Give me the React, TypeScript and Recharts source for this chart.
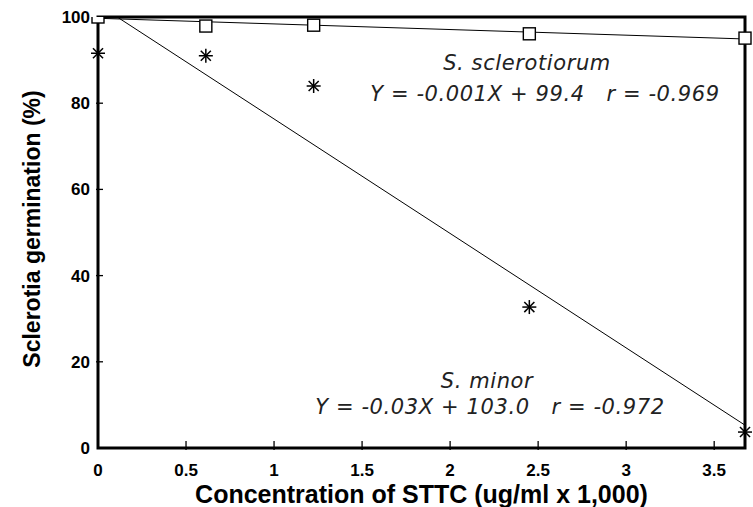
import React from 'react';
import { ComposedChart, Scatter, XAxis, YAxis, ReferenceArea } from 'recharts';

// concentration (ug/ml x 1,000)
const conc = [0, 0.6125, 1.225, 2.45, 3.675];
// germination (%)
const sclerotiorum = [100, 97.9, 98.1, 96.1, 95.1];
const minor = [91.6, 91, 84, 32.7, 3.7];
// regression lines, end values at x = 0 and x = max
const fitSclerotiorum = [99.7, 94.9];
const fitMinor = [102.9, 5.3];

const xTicks = [0, 0.5, 1, 1.5, 2, 2.5, 3, 3.5];
const yTicks = [0, 20, 40, 60, 80, 100];

const xMax = conc[conc.length - 1];
const pts = (ys: number[]) => conc.map((x, i) => ({ x, y: ys[i] }));
const ends = (ys: number[]) => [{ x: 0, y: ys[0] }, { x: xMax, y: ys[1] }];

const font = 'Liberation Sans, Arial, sans-serif';

const Square = (p: any) => (
  <rect x={p.cx - 6} y={p.cy - 6} width={12} height={12} fill="#fff" stroke="#000" strokeWidth={1.4} />
);

const Star = (p: any) => {
  const r = 7;
  const d = r * 0.72;
  return (
    <g stroke="#000" strokeWidth={1.5}>
      <line x1={p.cx} y1={p.cy - r} x2={p.cx} y2={p.cy + r} />
      <line x1={p.cx - r} y1={p.cy} x2={p.cx + r} y2={p.cy} />
      <line x1={p.cx - d} y1={p.cy - d} x2={p.cx + d} y2={p.cy + d} />
      <line x1={p.cx - d} y1={p.cy + d} x2={p.cx + d} y2={p.cy - d} />
    </g>
  );
};

const NoShape = () => <g />;

const XTick = (p: any) => {
  const v = p.payload.value;
  return (
    <g>
      {v !== 0 && <line x1={p.x} x2={p.x} y1={p.y} y2={p.y - 9} stroke="#000" strokeWidth={1.3} />}
      <text x={p.x} y={p.y + 26} textAnchor="middle" fontFamily={font} fontWeight="bold" fontSize={17} fill="#000">
        {v}
      </text>
    </g>
  );
};

const YTick = (p: any) => {
  const v = p.payload.value;
  return (
    <g>
      {v !== 0 && v !== 100 && <line x1={p.x} x2={p.x + 7} y1={p.y} y2={p.y} stroke="#000" strokeWidth={1.3} />}
      <text x={p.x - 6} y={p.y + 6} textAnchor="end" fontFamily={font} fontWeight="bold" fontSize={17} fill="#000">
        {v}
      </text>
    </g>
  );
};

const note = {
  fontFamily: 'DejaVu Sans, sans-serif',
  fontStyle: 'italic',
  fontSize: 21,
  fill: '#222',
  fontWeight: 200,
  letterSpacing: 0.6,
} as const;

export default function App() {
  return (
    <div style={{ position: 'absolute', left: 0, top: 0, background: '#fff' }}>
      <ComposedChart width={753} height={507} margin={{ top: 17, right: 8, bottom: 0, left: 0 }}>
        <XAxis
          type="number"
          dataKey="x"
          domain={[0, xMax]}
          ticks={xTicks}
          tick={<XTick />}
          tickLine={false}
          tickSize={0}
          axisLine={false}
          height={59}
          label={{ value: 'Concentration of STTC (ug/ml x 1,000)', position: 'insideBottom', offset: 4, style: { fontFamily: font, fontWeight: 'bold', fontSize: 25, fill: '#000' } }}
        />
        <YAxis
          type="number"
          dataKey="y"
          domain={[0, 100]}
          allowDataOverflow
          ticks={yTicks}
          tick={<YTick />}
          tickLine={false}
          tickSize={0}
          axisLine={false}
          width={98}
        />
        <ReferenceArea x1={0} x2={xMax} y1={0} y2={100} fill="none" stroke="#000" strokeWidth={3} ifOverflow="visible" />
        <Scatter data={ends(fitSclerotiorum)} line={{ stroke: '#000', strokeWidth: 1 }} shape={<NoShape />} isAnimationActive={false} />
        <Scatter data={ends(fitMinor)} line={{ stroke: '#000', strokeWidth: 1 }} shape={<NoShape />} isAnimationActive={false} />
        <Scatter data={pts(sclerotiorum)} shape={<Square />} isAnimationActive={false} />
        <Scatter data={pts(minor)} shape={<Star />} isAnimationActive={false} />
        <text
          transform="translate(40 229) rotate(-90)"
          textAnchor="middle"
          fontFamily={font}
          fontWeight="bold"
          fontSize={23}
          fill="#000"
        >
          Sclerotia germination (%)
        </text>
        <text x={527} y={70} textAnchor="middle" style={note}>S. sclerotiorum</text>
        <text x={545} y={101} textAnchor="middle" style={note} xmlSpace="preserve">Y = -0.001X + 99.4   r = -0.969</text>
        <text x={487} y={388} textAnchor="middle" style={note}>S. minor</text>
        <text x={490} y={414} textAnchor="middle" style={note} xmlSpace="preserve">Y = -0.03X + 103.0   r = -0.972</text>
      </ComposedChart>
    </div>
  );
}
